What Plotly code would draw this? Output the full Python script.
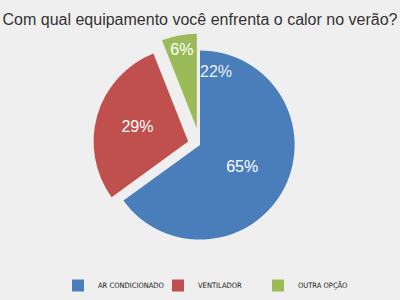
import plotly.graph_objects as go

categories = ["AR CONDICIONADO", "VENTILADOR", "OUTRA OPÇÃO"]
values = [65, 29, 6]
colors = ["#4a7ebb", "#c0504d", "#9bbb59"]
title = "Com qual equipamento você enfrenta o calor no verão?"

fig = go.Figure(go.Pie(
    labels=categories,
    values=values,
    sort=False,
    direction="clockwise",
    rotation=0,
    pull=[0.0, 0.13, 0.18],
    marker=dict(colors=colors, line=dict(color="rgba(0,0,0,0)", width=0)),
    texttemplate="%{percent:.0%}",
    textposition="inside",
    insidetextorientation="horizontal",
    textfont=dict(family="Liberation Sans, Arial", size=16, color="white"),
    domain=dict(x=[0.0, 1.0], y=[0.115, 0.885]),
    hoverinfo="skip",
))

fig.add_annotation(text="22%", x=0.54, y=0.79, xref="paper", yref="paper",
                   showarrow=False, font=dict(family="Liberation Sans, Arial", size=16,
                                              color="rgba(255,255,255,0.9)"))

fig.update_layout(
    width=400, height=300,
    margin=dict(l=0, r=0, t=0, b=0),
    paper_bgcolor="#efefef",
    plot_bgcolor="#efefef",
    title=dict(text=title, x=0.5, xanchor="center", y=0.935, yanchor="middle",
               font=dict(family="Liberation Sans, Arial", size=16, color="#333333")),
    showlegend=True,
    legend=dict(orientation="h", x=0.52, xanchor="center", y=-0.035, yanchor="bottom",
                font=dict(family="DejaVu Sans Condensed, Liberation Sans Narrow, Liberation Sans", size=7.5, color="#222222"),
                itemwidth=30, entrywidth=55, entrywidthmode="pixels",
                traceorder="normal", bgcolor="rgba(0,0,0,0)"),
)

fig.write_html("out.html")
